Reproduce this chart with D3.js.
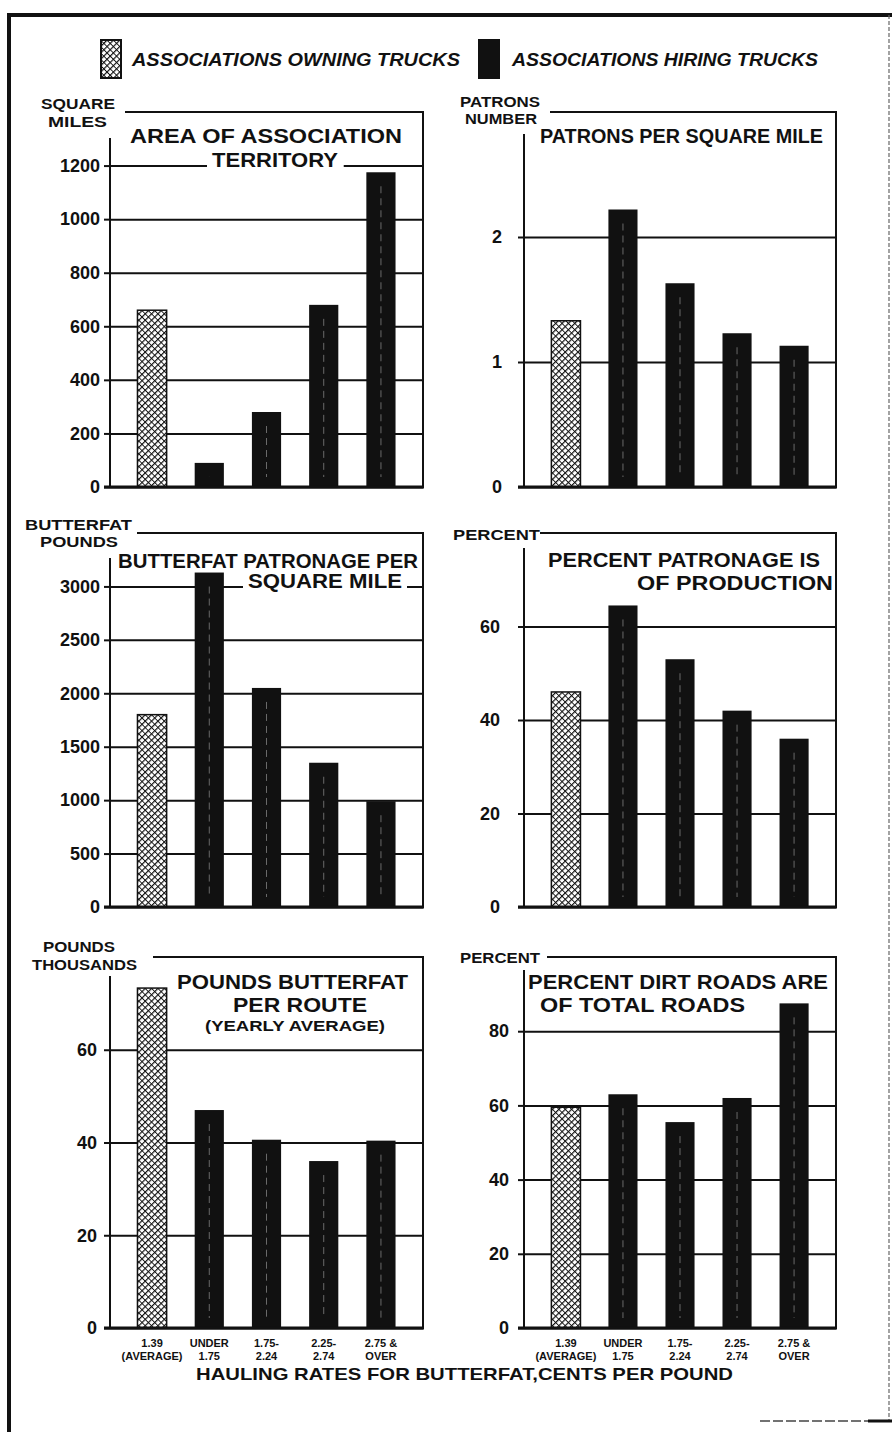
<!DOCTYPE html>
<html lang="en">
<head>
<meta charset="UTF-8">
<title>Hauling rates for butterfat</title>
<script src="https://d3js.org/d3.v7.min.js"></script>
<style>
  body { margin: 0; background: #fff; }
  svg { display: block; }
  text { font-family: "Liberation Sans", Arial, sans-serif; font-weight: bold; fill: #111; }
  .ylab text { font-size: 18px; }
  .legend text { font-style: italic; font-size: 18px; }
</style>
</head>
<body>
<svg width="892" height="1432"></svg>
<script>
// hauling rate groups, cents per pound
const rateTop = ["1.39", "UNDER", "1.75-", "2.25-", "2.75 &"];
const rateBottom = ["(AVERAGE)", "1.75", "2.24", "2.74", "OVER"];
const categories = rateTop.map((t, i) => t + " " + rateBottom[i]);
const truckType = ["owning", "hiring", "hiring", "hiring", "hiring"];

const areaSqMiles = [660, 90, 280, 680, 1175];
const patronsPerSqMile = [1.33, 2.22, 1.63, 1.23, 1.13];
const butterfatPerSqMile = [1800, 3130, 2050, 1350, 990];
const pctPatronageOfProd = [46, 64.5, 53, 42, 36];
const butterfatPerRoute = [73.3, 47, 40.6, 36, 40.4];   // thousands of pounds
const pctDirtRoads = [59.5, 63, 55.5, 62, 87.5];

const ticksArea = [0, 200, 400, 600, 800, 1000, 1200];
const ticksPatrons = [0, 1, 2];
const ticksButterfat = [0, 500, 1000, 1500, 2000, 2500, 3000];
const ticksPct60 = [0, 20, 40, 60];
const ticksPct80 = [0, 20, 40, 60, 80];

const svg = d3.select("svg");

// hatching for the "owning trucks" bars
const defs = svg.append("defs");
const pat = defs.append("pattern")
    .attr("id", "hatch")
    .attr("width", 4.5).attr("height", 4.5)
    .attr("patternUnits", "userSpaceOnUse")
    .attr("patternTransform", "rotate(45)");
pat.append("rect").attr("width", 4.5).attr("height", 4.5).attr("fill", "#fff");
pat.append("line").attr("x1", 0).attr("y1", 0).attr("x2", 0).attr("y2", 4.5)
    .attr("stroke", "#111").attr("stroke-width", 2.4);
pat.append("line").attr("x1", 0).attr("y1", 2.25).attr("x2", 4.5).attr("y2", 2.25)
    .attr("stroke", "#111").attr("stroke-width", 0.9);

// page border
svg.append("line").attr("x1", 7).attr("x2", 892).attr("y1", 15).attr("y2", 15)
    .attr("stroke", "#111").attr("stroke-width", 4);
svg.append("line").attr("x1", 9).attr("x2", 9).attr("y1", 13).attr("y2", 1432)
    .attr("stroke", "#111").attr("stroke-width", 4);
svg.append("line").attr("x1", 889).attr("x2", 889).attr("y1", 15).attr("y2", 1420)
    .attr("stroke", "#666").attr("stroke-width", 1.2).attr("stroke-dasharray", "4,2");
svg.append("line").attr("x1", 760).attr("x2", 892).attr("y1", 1421).attr("y2", 1421)
    .attr("stroke", "#444").attr("stroke-width", 1.5).attr("stroke-dasharray", "10,3");
svg.append("line").attr("x1", 868).attr("x2", 892).attr("y1", 1421).attr("y2", 1421)
    .attr("stroke", "#111").attr("stroke-width", 3);

// legend
const legend = svg.append("g").attr("class", "legend");
legend.append("rect").attr("x", 101).attr("y", 40).attr("width", 20).attr("height", 38)
    .attr("fill", "url(#hatch)").attr("stroke", "#111").attr("stroke-width", 2);
legend.append("text").attr("x", 132).attr("y", 66).attr("textLength", 328)
    .attr("lengthAdjust", "spacingAndGlyphs").text("ASSOCIATIONS OWNING TRUCKS");
legend.append("rect").attr("x", 478).attr("y", 39).attr("width", 22).attr("height", 40)
    .attr("fill", "#111");
legend.append("text").attr("x", 512).attr("y", 66).attr("textLength", 306)
    .attr("lengthAdjust", "spacingAndGlyphs").text("ASSOCIATIONS HIRING TRUCKS");

const cols = [{ x0: 110, x1: 423 }, { x0: 524, x1: 836 }];
const rows = [{ top: 112, base: 487 }, { top: 533, base: 907 }, { top: 957, base: 1328 }];

const panels = [
  { col: 0, row: 0, values: areaSqMiles, ticks: ticksArea, max: 1400, axisTop: 138, lineStart: 125, gap: 10,
    unit: [["SQUARE", 41, 109, 74], ["MILES", 48, 127, 59]],
    title: [["AREA OF ASSOCIATION", 130, 143, 272, 20], ["TERRITORY", 212, 167, 126, 20]] },
  { col: 1, row: 0, values: patronsPerSqMile, ticks: ticksPatrons, max: 3, axisTop: 134, lineStart: 550, gap: 22,
    unit: [["PATRONS", 460, 107, 80], ["NUMBER", 465, 124, 72]],
    title: [["PATRONS PER SQUARE MILE", 540, 143, 283, 20]] },
  { col: 0, row: 1, values: butterfatPerSqMile, ticks: ticksButterfat, max: 3500, axisTop: 558, lineStart: 137, gap: 10,
    unit: [["BUTTERFAT", 25, 530, 107], ["POUNDS", 40, 547, 78]],
    title: [["BUTTERFAT PATRONAGE PER", 118, 568, 300, 20], ["SQUARE MILE", 248, 588, 154, 20]] },
  { col: 1, row: 1, values: pctPatronageOfProd, ticks: ticksPct60, max: 80, axisTop: 548, lineStart: 540, gap: 24,
    unit: [["PERCENT", 453, 540, 87]],
    title: [["PERCENT PATRONAGE IS", 548, 567, 272, 20], ["OF PRODUCTION", 637, 590, 196, 20]] },
  { col: 0, row: 2, values: butterfatPerRoute, ticks: ticksPct60, max: 80, axisTop: 976, lineStart: 153, gap: 13,
    unit: [["POUNDS", 43, 952, 72], ["THOUSANDS", 32, 970, 105]],
    title: [["POUNDS BUTTERFAT", 177, 989, 231, 20], ["PER ROUTE", 233, 1012, 134, 20],
            ["(YEARLY AVERAGE)", 205, 1031, 180, 15]] },
  { col: 1, row: 2, values: pctDirtRoads, ticks: ticksPct80, max: 100, axisTop: 970, lineStart: 547, gap: 15,
    unit: [["PERCENT", 460, 963, 80]],
    title: [["PERCENT DIRT ROADS ARE", 528, 989, 300, 20], ["OF TOTAL ROADS", 540, 1012, 205, 20]] }
];

panels.forEach(p => {
  const c = cols[p.col], r = rows[p.row];
  const g = svg.append("g");
  const x = d3.scaleBand().domain(categories).range([c.x0, c.x1])
      .paddingInner(0.49).paddingOuter(0.48);
  const y = d3.scaleLinear().domain([0, p.max]).range([r.base, r.top]);

  // gridlines
  g.append("g").attr("transform", `translate(${c.x0},0)`)
      .call(d3.axisLeft(y).tickValues(p.ticks).tickSize(-(c.x1 - c.x0)).tickFormat(""))
      .call(a => a.select(".domain").remove())
      .selectAll("line").attr("stroke", "#111").attr("stroke-width", 2);

  // tick labels with short ticks
  g.append("g").attr("class", "ylab").attr("transform", `translate(${c.x0},0)`)
      .call(d3.axisLeft(y).tickValues(p.ticks).tickSize(6).tickPadding(p.gap - 6).tickFormat(d3.format("d")))
      .call(a => a.select(".domain").remove())
      .call(a => a.selectAll("line").attr("stroke", "#111").attr("stroke-width", 2));

  // panel title on a white ground, which breaks the gridlines behind it
  p.title.forEach(([t, tx, ty, w, fs]) => {
    const bg = g.append("rect").attr("fill", "#fff");
    const txt = g.append("text").attr("x", tx).attr("y", ty).attr("font-size", fs)
        .attr("textLength", w).attr("lengthAdjust", "spacingAndGlyphs")
        .text(t);
    const b = txt.node().getBBox();
    bg.attr("x", b.x - 5).attr("y", b.y + 1).attr("width", b.width + 10).attr("height", b.height);
  });

  // bars
  const bars = g.selectAll("g.bar").data(p.values).join("g").attr("class", "bar");
  bars.append("rect")
      .attr("x", (d, i) => x(categories[i]))
      .attr("width", x.bandwidth())
      .attr("y", d => y(d))
      .attr("height", d => y(0) - y(d))
      .attr("fill", (d, i) => truckType[i] === "owning" ? "url(#hatch)" : "#111")
      .attr("stroke", "#111")
      .attr("stroke-width", (d, i) => truckType[i] === "owning" ? 1.5 : 0);
  // faint streak down the middle of the solid bars, as in the print
  bars.filter((d, i) => truckType[i] === "hiring").append("line")
      .attr("x1", function () { const i = p.values.indexOf(d3.select(this.parentNode).datum()); return x(categories[i]) + x.bandwidth() / 2; })
      .attr("x2", function () { return d3.select(this).attr("x1"); })
      .attr("y1", d => y(d) + 14)
      .attr("y2", d => y(0) - 10)
      .attr("stroke", "#ccc").attr("stroke-width", 0.8).attr("stroke-dasharray", "7,5")
      .attr("opacity", 0.6);

  // unit label
  p.unit.forEach(([t, tx, ty, w]) => {
    g.append("text").attr("x", tx).attr("y", ty).attr("font-size", 14)
        .attr("textLength", w).attr("lengthAdjust", "spacingAndGlyphs").text(t);
  });

  // frame
  g.append("line").attr("x1", p.lineStart).attr("x2", c.x1).attr("y1", r.top).attr("y2", r.top)
      .attr("stroke", "#111").attr("stroke-width", 2);
  g.append("line").attr("x1", c.x1).attr("x2", c.x1).attr("y1", r.top - 1).attr("y2", r.base)
      .attr("stroke", "#111").attr("stroke-width", 2);
  g.append("line").attr("x1", c.x0).attr("x2", c.x0).attr("y1", p.axisTop).attr("y2", r.base)
      .attr("stroke", "#111").attr("stroke-width", 2);
  g.append("line").attr("x1", c.x0 - 6).attr("x2", c.x1 + 1).attr("y1", r.base).attr("y2", r.base)
      .attr("stroke", "#111").attr("stroke-width", 3);

  // category labels only under the bottom row
  if (p.row === 2) {
    const cl = g.append("g").attr("font-size", 11).attr("text-anchor", "middle");
    cl.selectAll("text.top").data(rateTop).join("text").attr("class", "top")
        .attr("x", (d, i) => x(categories[i]) + x.bandwidth() / 2).attr("y", 1347).text(d => d);
    cl.selectAll("text.bot").data(rateBottom).join("text").attr("class", "bot")
        .attr("x", (d, i) => x(categories[i]) + x.bandwidth() / 2).attr("y", 1360).text(d => d);
  }
});

svg.append("text").attr("x", 196).attr("y", 1380).attr("font-size", 17)
    .attr("textLength", 537).attr("lengthAdjust", "spacingAndGlyphs")
    .text("HAULING RATES FOR BUTTERFAT,CENTS PER POUND");
</script>
</body>
</html>
